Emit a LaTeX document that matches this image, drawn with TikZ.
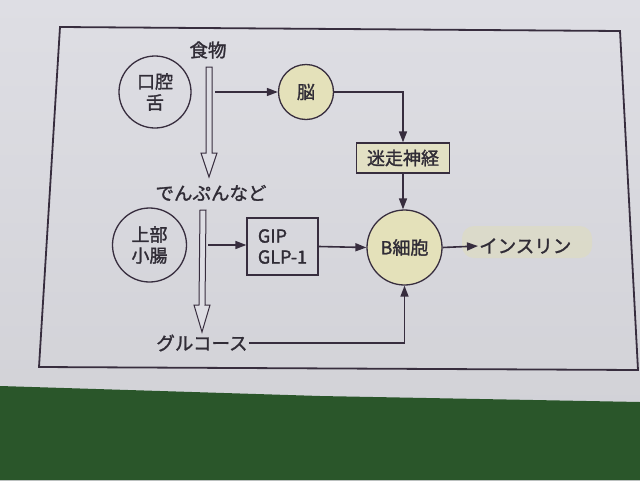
\documentclass[tikz,border=0pt]{standalone}
\usepackage{fontspec}
\setmainfont{Noto Sans CJK JP}[FakeBold=1.5]
\usetikzlibrary{arrows.meta,calc}
\definecolor{paperA}{RGB}{222,222,228}
\definecolor{paperB}{RGB}{208,208,213}
\definecolor{carpet}{RGB}{42,86,42}
\definecolor{ink}{RGB}{55,45,62}
\definecolor{txt}{RGB}{48,44,54}
\definecolor{yel}{RGB}{228,225,186}
\definecolor{yelbox}{RGB}{226,224,196}
\definecolor{hl}{RGB}{226,222,180}
\tikzset{
  conn/.style={draw=ink,line width=1.6pt,-{Triangle[length=11pt,width=8pt]}},
  circ/.style={circle,draw=ink,line width=1.3pt,inner sep=0pt,text=txt,align=center,font=\fontsize{18}{21}\selectfont},
  rbox/.style={rectangle,draw=ink,line width=1.3pt,inner sep=0pt,text=txt,font=\fontsize{18}{21}\selectfont},
  lbl/.style={text=txt,inner sep=1pt,font=\fontsize{18.5}{21}\selectfont},
  hollow/.style={draw=ink,line width=1pt,fill=paperA}
}
\begin{document}
\begin{tikzpicture}[x=1pt,y=-1pt]
\useasboundingbox (0,0) rectangle (640,480);
% paper and carpet
\shade[top color=paperA,bottom color=paperB] (0,0) rectangle (640,480);
\fill[carpet] (0,386) -- (320,396) -- (640,402) -- (640,480) -- (0,480) -- cycle;
% frame
\draw[ink,line width=1.8pt] (60,27) -- (620,31) -- (638,370) -- (39,367) -- cycle;
% highlight behind insulin
\fill[hl,opacity=0.45,rounded corners=12pt] (462,226) rectangle (592,258);
% nodes
\node[lbl] (food) at (208,50) {食物};
\node[circ,minimum size=72pt] (mouth) at (155,92) {口腔\\舌};
\node[circ,fill=yel,minimum size=55pt] (brain) at (306,92) {脳};
\node[rbox,fill=yelbox,minimum width=93pt,minimum height=30pt] (vagus) at (403,158) {迷走神経};
\node[lbl] (starch) at (211,193) {でんぷんなど};
\node[circ,minimum size=74pt] (upper) at (149.5,245) {上部\\小腸};
\node[rbox,minimum width=71pt,minimum height=57pt,align=left,inner xsep=9pt] (gip) at (282.5,246.5) {GIP\\GLP-1};
\node[circ,fill=yel,minimum size=75pt] (bcell) at (404.5,247.5) {B細胞};
\node[lbl,anchor=west] (insulin) at (478,246) {インスリン};
\node[lbl] (glucose) at (202,343) {グルコース};
% hollow arrows (food passage)
\coordinate (t1) at (209,67);
\coordinate (b1) at (209,177);
\coordinate (t2) at (203,210);
\coordinate (b2) at (202,332);
\draw[hollow] ($(t1)+(-3,0)$) -- ($(t1)+(3,0)$) -- ($(b1)+(3,-24)$) -- ($(b1)+(8,-24)$) -- (b1)
  -- ($(b1)+(-8,-24)$) -- ($(b1)+(-3,-24)$) -- cycle;
\draw[hollow] ($(t2)+(-3,0)$) -- ($(t2)+(3,0)$) -- ($(b2)+(3,-27)$) -- ($(b2)+(8,-27)$) -- (b2)
  -- ($(b2)+(-8,-27)$) -- ($(b2)+(-3,-27)$) -- cycle;
\coordinate (s1) at (215,92);
\coordinate (s2) at (208,245);
% connectors
\draw[conn] (s1) -- (brain.west);
\draw[conn] (brain.east) -| (vagus.north);
\draw[conn] (vagus.south) -- (vagus.south |- bcell.north);
\draw[conn] (s2) -- (gip.west |- s2);
\draw[conn] (gip.east) -- (bcell.west);
\draw[conn] (bcell.east) -- (insulin.west);
\draw[conn] (glucose.east) -| (bcell.south);
\end{tikzpicture}
\end{document}
